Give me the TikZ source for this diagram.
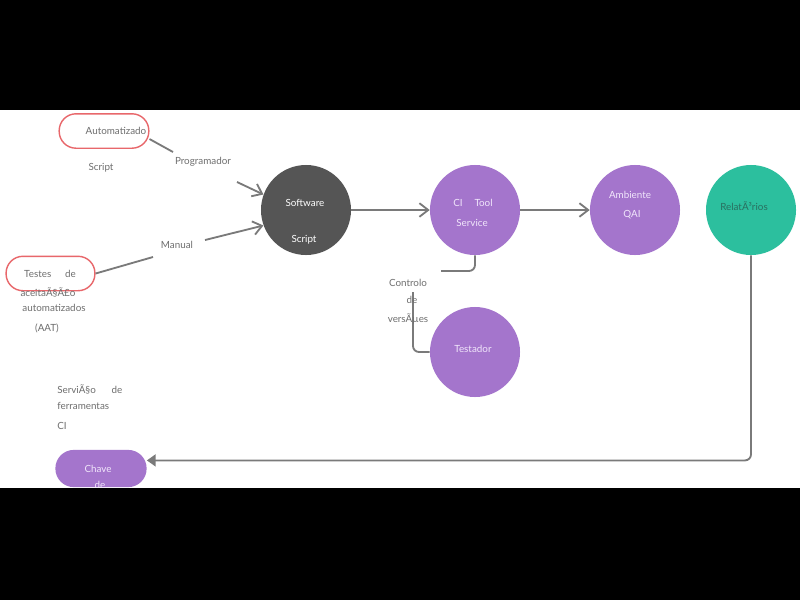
\documentclass[tikz,border=0pt]{standalone}
\usepackage{fontspec}
\setmainfont{Lato}
\usetikzlibrary{positioning,arrows.meta}

\definecolor{linegrey}{HTML}{7A7A7A}
\definecolor{labgrey}{HTML}{6E6E6E}
\definecolor{darkhub}{HTML}{555555}
\definecolor{lilac}{HTML}{A475CC}
\definecolor{mint}{HTML}{2CBF9E}
\definecolor{mintdark}{HTML}{2A6E5F}
\definecolor{redline}{HTML}{E8676B}
\definecolor{lilactext}{HTML}{F1E6FB}

\begin{document}
\begin{tikzpicture}[
  x=0.025cm, y=-0.025cm,
  font=\fontsize{7}{8}\selectfont,
  hub/.style={
    circle, minimum size=2.25cm, inner sep=0pt, draw=none
  },
  dark/.style={hub, fill=darkhub},
  lil/.style={hub, fill=lilac},
  rep/.style={hub, fill=mint},
  pill/.style={
    rectangle, rounded corners=0.42cm,
    minimum width=2.24cm, minimum height=0.86cm, inner sep=0pt
  },
  redpill/.style={pill, draw=redline, line width=1pt, fill=white},
  lilpill/.style={pill, fill=lilac, rounded corners=0.46cm,
    minimum width=2.28cm, minimum height=0.93cm},
  lab/.style={text=labgrey, inner sep=0pt},
  inlab/.style={text=lilactext, inner sep=0pt},
  conn/.style={draw=linegrey, line width=1.3pt, rounded corners=0.15cm},
  arr/.style={conn, -{Straight Barb[length=2.2mm,width=3.4mm]}},
  back/.style={conn, -{Triangle[length=2.2mm,width=3mm]}}
]

% ─── Page ───────────────────────────────────────────────────
\fill[black] (0,0) rectangle (800,600);
\fill[white] (0,110) rectangle (800,488);

% ─── Input side ─────────────────────────────────────────────
\node[redpill] (auto) at (104,131) {};
\node[redpill, minimum width=2.22cm] (aat) at (50.5,273.5) {};

\coordinate (progIn)  at (173,152);
\coordinate (progOut) at (237,182);
\coordinate (manIn)   at (153,257);
\coordinate (manOut)  at (205,240);

% ─── Main chain ─────────────────────────────────────────────
\node[dark] (sw)   at (306,210) {};
\node[lil]  (ci)   at (475,210) {};
\node[lil]  (qa)   at (635,210) {};
\node[rep]  (rel)  at (751,210) {};
\node[lil]  (test) at (475,352) {};
\node[lilpill] (key) at (101,468.5) {};

\coordinate (vcsA) at (441,271);
\coordinate (vcsB) at (413,292);

% ─── Connectors ─────────────────────────────────────────────
\draw[conn] (auto.-10) -- (progIn);
\draw[arr]  (progOut) -- (sw.160);
\draw[conn] (aat.east) -- (manIn);
\draw[arr]  (manOut) -- (sw.200);
\draw[arr]  (sw.east) -- (ci.west);
\draw[arr]  (ci.east) -- (qa.west);
\draw[conn] (ci.south) |- (vcsA);
\draw[conn] (vcsB) |- (test.west);
\draw[back] (rel.south) |- (key.10);

% ─── Texts ──────────────────────────────────────────────────
\node[lab] (autoT) at (116,131) {Automatizado};
\node[lab] (scrT)  at (101,168) {Script};
\node[lab] (progT) at (203,162) {Programador};
\node[lab] (manT)  at (177,245) {Manual};
\node[lab] (aatT1) at (50,274) {Testes\hspace{1.4em}de};
\node[lab] (aatT2) at (48,292) {aceitaÃ§Ã£o};
\node[lab] (aatT3) at (54,308) {automatizados};
\node[lab] (aatT4) at (47,328) {(AAT)};

\node[inlab, text=white] (swT1) at (305,203) {Software};
\node[inlab, text=white] (swT2) at (304,240) {Script};
\node[inlab] (ciT1) at (473,203) {CI\hspace{1.2em}Tool};
\node[inlab] (ciT2) at (472,223) {Service};
\node[inlab] (qaT1) at (630,195) {Ambiente};
\node[inlab] (qaT2) at (632,215) {QAI};
\node[lab, text=mintdark] (relT) at (744,206) {RelatÃ³rios};
\node[inlab] (testT) at (473,349) {Testador};

\node[lab] (vcsT1) at (408,283) {Controlo};
\node[lab] (vcsT2) at (412,300) {de};
\node[lab] (vcsT3) at (408,319) {versÃµes};

\node[lab, anchor=west] (srvT1) at (57,389) {ServiÃ§o\hspace{1.6em}de};
\node[lab, anchor=west] (srvT2) at (57,406) {ferramentas};
\node[lab, anchor=west] (srvT3) at (57,426) {CI};

\node[inlab] (keyT1) at (98,469) {Chave};
\node[inlab] (keyT2) at (100,485) {de};

% ─── Bands ──────────────────────────────────────────────────
\fill[black] (0,0) rectangle (800,110);
\fill[black] (0,488) rectangle (800,600);

\end{tikzpicture}
\end{document}
